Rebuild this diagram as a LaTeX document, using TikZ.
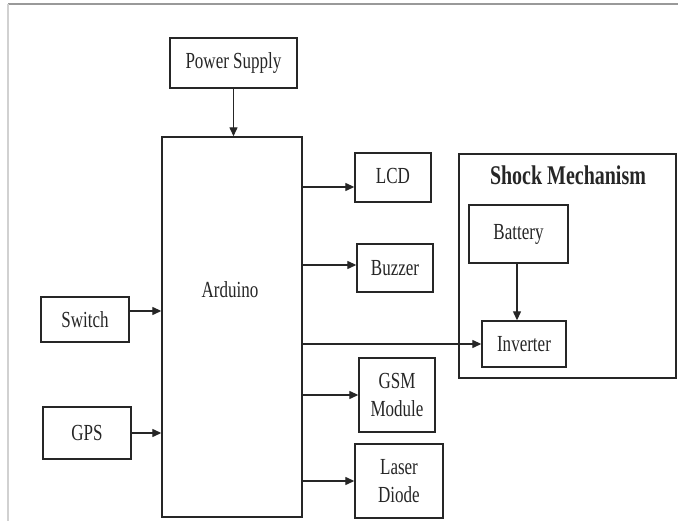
\documentclass[tikz,border=0pt]{standalone}
\usepackage{fontspec}
\setmainfont{Liberation Serif}[FakeStretch=0.74]
\usetikzlibrary{arrows,arrows.meta,shapes}
\definecolor{edgegray}{HTML}{262626}
\tikzstyle{blockbox} = [draw=edgegray, line width=1.4pt, inner sep=0pt, align=center]
\tikzstyle{blklink} = [draw=edgegray, line width=1.3pt, -{Triangle[length=9pt, width=8pt]}]
\tikzstyle{frameline} = [line width=1.5pt]
\newcommand{\blocknode}[6]{
  \node[blockbox, minimum width=#3pt, minimum height=#4pt] (#1) at (#2) {#6};
}

\begin{document}
\begin{tikzpicture}[x=1pt, y=-1pt]
\tikzstyle{every node}=[font=\fontsize{23}{28}\selectfont, text=black!85]
\useasboundingbox (0,0) rectangle (678,521);
\fill[white] (0,0) rectangle (678,521);
\draw[frameline, black!40] (8,4) -- (678,4);
\draw[frameline, black!18] (8,4) -- (8,521);

% outer group
\node[draw=edgegray, line width=1.4pt, minimum width=217pt, minimum height=224pt] (shock) at (567.5,266) {};
\node[font=\fontsize{27}{30}\selectfont\bfseries] (shocktitle) at (568,175) {Shock Mechanism};

% blocks
\blocknode{power}{233.5,63}{127}{50}{}{Power Supply}
\blocknode{arduino}{232,327}{140}{380}{}{}
\node (arduinotxt) at (230,290) {Arduino};
\blocknode{switch}{85,319.5}{88}{45}{}{Switch}
\blocknode{gps}{87,433}{88}{52}{}{GPS}
\blocknode{lcd}{393,177.5}{76}{49}{}{\raisebox{4pt}{LCD}}
\blocknode{buzzer}{395,268}{76}{48}{}{Buzzer}
\blocknode{gsm}{397,395}{76}{74}{}{GSM\\Module}
\blocknode{laser}{399,481}{88}{74}{}{Laser\\Diode}
\blocknode{battery}{518.5,234}{99}{58}{}{\raisebox{3pt}{Battery}}
\blocknode{inverter}{524,344}{84}{46}{}{Inverter}

% links
\coordinate (swout) at ([yshift=8.5pt]switch.east);
\coordinate (lcdin) at ([yshift=-9.5pt]lcd.west);
\coordinate (buzin) at ([yshift=3pt]buzzer.west);
\draw[blklink] (power.south) -- (power.south |- arduino.north);
\draw[blklink] (swout) -- (swout -| arduino.west);
\draw[blklink] (gps.east) -- (gps.east -| arduino.west);
\draw[blklink] (lcdin -| arduino.east) -- (lcdin);
\draw[blklink] (buzin -| arduino.east) -- (buzin);
\draw[blklink] (gsm.west -| arduino.east) -- (gsm.west);
\draw[blklink] (laser.west -| arduino.east) -- (laser.west);
\draw[blklink] (inverter.west -| arduino.east) -- (inverter.west);
\draw[blklink] ([xshift=-1.5pt]battery.south) -- ([xshift=-1.5pt]battery.south |- inverter.north);
\end{tikzpicture}
\end{document}
